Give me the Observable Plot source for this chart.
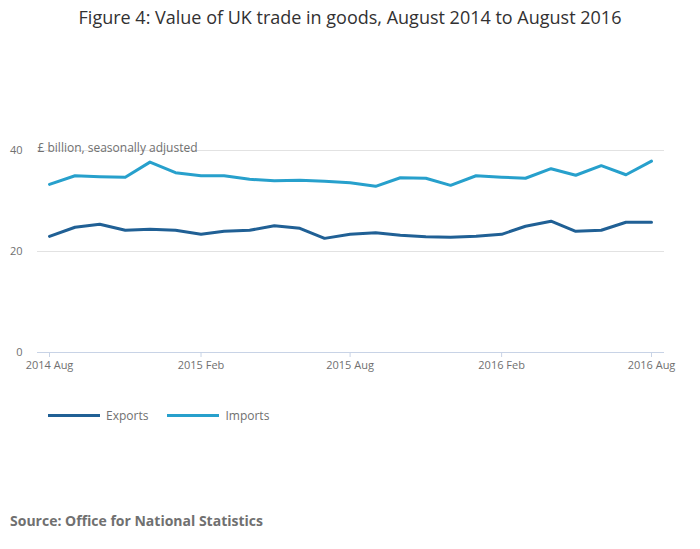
<!DOCTYPE html>
<html>
<head>
<meta charset="utf-8">
<script src="https://cdn.jsdelivr.net/npm/d3@7"></script>
<script src="https://cdn.jsdelivr.net/npm/@observablehq/plot@0.6"></script>
<style>
  body { margin: 0; background: #fff; font-family: "Open Sans", sans-serif; }
  #wrap { position: relative; width: 700px; height: 549px; }
  #title { position: absolute; top: 5px; left: 0; width: 700px; text-align: center; font-size: 18px; color: #323132; }
  #chart { position: absolute; top: 40px; left: 0; }
  #legend { position: absolute; top: 407px; left: 48px; font-size: 12px; color: #707070; display: flex; align-items: center; }
  .sw { display: inline-block; width: 52px; height: 3px; margin-right: 6px; }
  .item { display: flex; align-items: center; margin-right: 7px; }
  #source { position: absolute; top: 511px; left: 10px; font-size: 14px; font-weight: bold; color: #707070; }
</style>
</head>
<body>
<div id="wrap">
  <div id="title">Figure 4: Value of UK trade in goods, August 2014 to August 2016</div>
  <div id="chart"></div>
  <div id="legend"></div>
  <div id="source">Source: Office for National Statistics</div>
</div>
<script>
const months = ["2014-08","2014-09","2014-10","2014-11","2014-12","2015-01","2015-02","2015-03","2015-04","2015-05","2015-06","2015-07","2015-08","2015-09","2015-10","2015-11","2015-12","2016-01","2016-02","2016-03","2016-04","2016-05","2016-06","2016-07","2016-08"];
const exportsValues = [23.0,24.8,25.4,24.2,24.4,24.2,23.4,24.0,24.2,25.1,24.6,22.6,23.4,23.7,23.2,22.9,22.8,23.0,23.4,25.0,26.0,24.0,24.2,25.8,25.8];
const importsValues = [33.3,35.0,34.8,34.7,37.7,35.6,35.0,35.0,34.3,34.0,34.1,33.9,33.6,32.9,34.6,34.5,33.1,35.0,34.7,34.5,36.4,35.1,37.0,35.2,37.9];
const seriesNames = ["Exports","Imports"];
const seriesColors = ["#206095","#27a0cc"];
const yTicks = [0,20,40];
const xTickMonths = ["2014-08","2015-02","2015-08","2016-02","2016-08"];
const yLabel = "£ billion, seasonally adjusted";

const parse = d3.utcParse("%Y-%m");
const fmt = d3.utcFormat("%Y %b");
const data = [];
months.forEach((m, i) => {
  data.push({date: parse(m), value: exportsValues[i], series: seriesNames[0]});
  data.push({date: parse(m), value: importsValues[i], series: seriesNames[1]});
});

const chart = Plot.plot({
  width: 700,
  height: 340,
  marginLeft: 37,
  marginRight: 36,
  marginTop: 110,
  marginBottom: 28,
  style: {fontFamily: "Open Sans, sans-serif", fontSize: "11px", color: "#707070", background: "#fff"},
  x: {type: "utc", domain: [parse(months[0]), parse(months[months.length-1])], insetLeft: 12, insetRight: 13},
  y: {domain: [0, 40]},
  color: {domain: seriesNames, range: seriesColors},
  marks: [
    Plot.gridY([20, 40], {stroke: "#e2e2e2", strokeOpacity: 1}),
    Plot.ruleY([0], {stroke: "#c8d3e6", strokeWidth: 1}),
    Plot.axisY(yTicks, {tickSize: 0, tickPadding: 15, label: null, fill: "#707070", fontSize: 11}),
    Plot.axisX(xTickMonths.map(parse), {tickSize: 5, stroke: "#c8d3e6", tickFormat: fmt, label: null, fill: "#707070", fontSize: 11, tickPadding: 4}),
    Plot.text([yLabel], {frameAnchor: "top-left", textAnchor: "start", dy: -7, fill: "#707070", fontSize: 12}),
    Plot.line(data, {x: "date", y: "value", z: "series", stroke: "series", strokeWidth: 3})
  ]
});
document.getElementById("chart").appendChild(chart);

const legend = document.getElementById("legend");
seriesNames.forEach((n, i) => {
  const it = document.createElement("div");
  it.className = "item";
  it.style.marginRight = i === 0 ? "19px" : "0";
  const sw = document.createElement("span");
  sw.className = "sw";
  sw.style.background = seriesColors[i];
  it.appendChild(sw);
  it.appendChild(document.createTextNode(n));
  legend.appendChild(it);
});
</script>
</body>
</html>
